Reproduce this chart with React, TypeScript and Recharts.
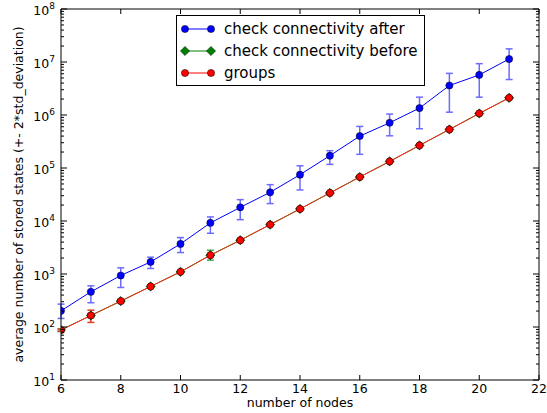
import React from "react";
import { LineChart, Line, XAxis, YAxis, ErrorBar, Legend } from "recharts";

// values
const nodes = [6, 7, 8, 9, 10, 11, 12, 13, 14, 15, 16, 17, 18, 19, 20, 21];

const afterMean = [202, 461, 937, 1690, 3700, 9200, 18100, 34800, 74800, 171000, 400000, 713000, 1350000, 3600000, 5700000, 11400000];
const afterLow = [145, 287, 557, 1270, 2540, 5870, 10600, 21300, 38500, 117000, 181000, 405000, 550000, 1130000, 2170000, 4670000];
const afterHigh = [270, 598, 1306, 2074, 4864, 11940, 25300, 48500, 110000, 212000, 608000, 1040000, 2170000, 6100000, 9300000, 17700000];

const beforeMean = [88, 165, 308, 582, 1100, 2265, 4340, 8550, 16900, 33800, 67700, 133000, 267000, 534000, 1070000, 2110000];
const beforeLow = [82, 150, 285, 560, 1060, 1820, 4180, 8250, 16300, 32600, 65500, 128500, 258000, 518000, 1040000, 2050000];
const beforeHigh = [93, 180, 332, 605, 1140, 2810, 4500, 8850, 17500, 35000, 70000, 137500, 276000, 550000, 1100000, 2170000];

const groupsMean = [87.5, 165, 308, 582, 1100, 2265, 4340, 8550, 16900, 33800, 67700, 133000, 267000, 534000, 1070000, 2110000];
const groupsLow = [84, 122, 300, 570, 1080, 2220, 4260, 8400, 16600, 33200, 66500, 131000, 262000, 525000, 1050000, 2080000];
const groupsHigh = [91, 208, 316, 594, 1120, 2310, 4420, 8700, 17200, 34400, 68900, 135000, 272000, 543000, 1090000, 2140000];

const xTicks = [6, 8, 10, 12, 14, 16, 18, 20, 22];
const decades = [1, 2, 3, 4, 5, 6, 7, 8];

const legendItems = [
  { label: "check connectivity after", color: "#0000ff", shape: "circle" },
  { label: "check connectivity before", color: "#008000", shape: "diamond" },
  { label: "groups", color: "#ff0000", shape: "circle" },
];

const data = nodes.map((n, i) => ({
  n,
  after: afterMean[i],
  afterErr: [afterMean[i] - afterLow[i], afterHigh[i] - afterMean[i]],
  before: beforeMean[i],
  beforeErr: [beforeMean[i] - beforeLow[i], beforeHigh[i] - beforeMean[i]],
  groups: groupsMean[i],
  groupsErr: [groupsMean[i] - groupsLow[i], groupsHigh[i] - groupsMean[i]],
}));

// major + minor log ticks
const yTicks: number[] = [];
decades.forEach((d) => {
  const base = Math.pow(10, d);
  yTicks.push(base);
  if (d < 8) for (let m = 2; m <= 9; m++) yTicks.push(m * base);
});

const FONT = "'DejaVu Sans', sans-serif";

const isMajor = (v: number) => Math.abs(Math.log10(v) - Math.round(Math.log10(v))) < 1e-9;

const LeftTick = (props: any) => {
  const { x, y, payload } = props;
  const v = payload.value;
  const major = isMajor(v);
  return (
    <g>
      <line x1={x} x2={x + (major ? 6 : 3)} y1={y} y2={y} stroke="#000" strokeWidth={1} />
      {major && (
        <text x={x - 6} y={y + 6} textAnchor="end" fontSize={12.5} fontFamily={FONT} fill="#000">
          10
          <tspan dy={-6.5} fontSize={9}>{Math.round(Math.log10(v))}</tspan>
        </text>
      )}
    </g>
  );
};

const RightTick = (props: any) => {
  const { x, y, payload } = props;
  const major = isMajor(payload.value);
  return <line x1={x} x2={x - (major ? 6 : 3)} y1={y} y2={y} stroke="#000" strokeWidth={1} />;
};

const BottomTick = (props: any) => {
  const { x, y, payload } = props;
  return (
    <g>
      <line x1={x} x2={x} y1={y} y2={y - 5} stroke="#000" strokeWidth={1} />
      <text x={x} y={y + 13} textAnchor="middle" fontSize={12.5} fontFamily={FONT} fill="#000">
        {payload.value}
      </text>
    </g>
  );
};

const TopTick = (props: any) => {
  const { x, y } = props;
  return <line x1={x} x2={x} y1={y} y2={y + 5} stroke="#000" strokeWidth={1} />;
};

const CircleDot = (color: string) => (props: any) => {
  const { cx, cy, index } = props;
  if (cx == null || cy == null) return <g key={index} />;
  return <circle key={index} cx={cx} cy={cy} r={3.6} fill={color} stroke="#000" strokeWidth={0.5} />;
};

const DiamondDot = (props: any) => {
  const { cx, cy, index } = props;
  if (cx == null || cy == null) return <g key={index} />;
  const r = 4.6;
  return (
    <polygon
      key={index}
      points={`${cx},${cy - r} ${cx + r},${cy} ${cx},${cy + r} ${cx - r},${cy}`}
      fill="#008000"
      stroke="#000"
      strokeWidth={0.5}
    />
  );
};

const LegendBox = () => (
  <div
    style={{
      width: 247,
      height: 69,
      border: "1px solid #000",
      background: "#fff",
      fontFamily: FONT,
      fontSize: 15,
      position: "relative",
    }}
  >
    {legendItems.map((it, i) => (
      <div key={it.label} style={{ position: "absolute", left: 0, top: 2 + i * 22, height: 22, width: 247 }}>
        <svg width={40} height={22} style={{ position: "absolute", left: 0, top: 0 }}>
          <line x1={8} x2={34} y1={11} y2={11} stroke={it.color} strokeWidth={1} />
          {[8, 34].map((cx) =>
            it.shape === "circle" ? (
              <circle key={cx} cx={cx} cy={11} r={3.6} fill={it.color} stroke="#000" strokeWidth={0.5} />
            ) : (
              <polygon
                key={cx}
                points={`${cx},${6.4} ${cx + 4.6},11 ${cx},${15.6} ${cx - 4.6},11`}
                fill={it.color}
                stroke="#000"
                strokeWidth={0.5}
              />
            )
          )}
        </svg>
        <span style={{ position: "absolute", left: 47, top: 2, lineHeight: "18px", whiteSpace: "nowrap", color: "#000" }}>
          {it.label}
        </span>
      </div>
    ))}
  </div>
);

export default function App() {
  return (
    <div style={{ position: "absolute", left: 0, top: 0, width: 547, height: 413, background: "#fff" }}>
      <LineChart width={547} height={413} data={data} margin={{ top: 0, right: 0, bottom: 0, left: 0 }}>
        <XAxis
          xAxisId="bottom"
          dataKey="n"
          type="number"
          domain={[6, 22]}
          ticks={xTicks}
          interval={0}
          allowDataOverflow
          height={33}
          tickSize={0}
          tickMargin={0}
          tick={<BottomTick />}
          axisLine={{ stroke: "#000", strokeWidth: 1 }}
          label={{ value: "number of nodes", position: "center", dy: 6, fontSize: 12.5, fontFamily: FONT, fill: "#000" }}
        />
        <XAxis
          xAxisId="top"
          orientation="top"
          dataKey="n"
          type="number"
          domain={[6, 22]}
          ticks={xTicks}
          interval={0}
          allowDataOverflow
          height={9}
          tickSize={0}
          tickMargin={0}
          tick={<TopTick />}
          axisLine={{ stroke: "#000", strokeWidth: 1 }}
        />
        <YAxis
          yAxisId="left"
          scale="log"
          type="number"
          domain={[10, 1e8]}
          ticks={yTicks}
          interval={0}
          allowDataOverflow
          width={61}
          tickSize={0}
          tickMargin={0}
          tick={<LeftTick />}
          axisLine={{ stroke: "#000", strokeWidth: 1 }}
          label={{
            value: "average number of stored states (+- 2*std_deviation)",
            angle: -90,
            position: "center",
            dx: -12,
            fontSize: 12.5,
            fontFamily: FONT,
            fill: "#000",
          }}
        />
        <YAxis
          yAxisId="right"
          orientation="right"
          scale="log"
          type="number"
          domain={[10, 1e8]}
          ticks={yTicks}
          interval={0}
          allowDataOverflow
          width={8}
          tickSize={0}
          tickMargin={0}
          tick={<RightTick />}
          axisLine={{ stroke: "#000", strokeWidth: 1 }}
        />
        <Line
          xAxisId="bottom"
          yAxisId="left"
          dataKey="after"
          stroke="#0000ff"
          strokeWidth={1}
          dot={CircleDot("#0000ff")}
          isAnimationActive={false}
        >
          <ErrorBar dataKey="afterErr" direction="y" width={3.5} stroke="#6b6bff" strokeWidth={1.5} />
        </Line>
        <Line
          xAxisId="bottom"
          yAxisId="left"
          dataKey="before"
          stroke="#008000"
          strokeWidth={1}
          dot={DiamondDot}
          isAnimationActive={false}
        >
          <ErrorBar dataKey="beforeErr" direction="y" width={3.5} stroke="#4cae4c" strokeWidth={1.5} />
        </Line>
        <Line
          xAxisId="bottom"
          yAxisId="left"
          dataKey="groups"
          stroke="#ff2a1a"
          strokeWidth={1}
          dot={CircleDot("#ff0000")}
          isAnimationActive={false}
        >
          <ErrorBar dataKey="groupsErr" direction="y" width={3.5} stroke="#e03a2a" strokeWidth={1.5} />
        </Line>
        <Legend
          layout="vertical"
          verticalAlign="middle"
          align="center"
          content={<LegendBox />}
          wrapperStyle={{ position: "absolute", left: 176, top: 15, width: 249, height: 71 }}
        />
      </LineChart>
    </div>
  );
}
